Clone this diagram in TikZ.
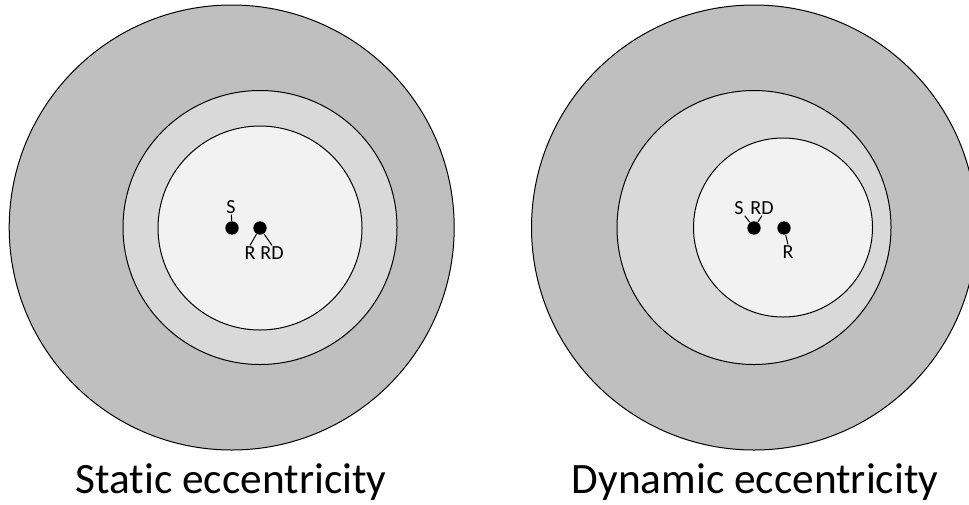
\documentclass[tikz,border=0pt]{standalone}
\usepackage{fontspec}
\setmainfont{Carlito}[Ligatures=NoCommon]
\definecolor{ringdark}{RGB}{191,191,191}
\definecolor{ringmid}{RGB}{217,217,217}
\definecolor{ringlight}{RGB}{242,242,242}
\tikzset{every picture/.style={line width=0.75pt}}
\tikzset{
  axisdot/.style={circle,fill=black,inner sep=0pt,minimum size=10pt},
  lbl/.style={inner sep=0.5pt,font=\fontsize{15}{18}\selectfont},
  capt/.style={anchor=base,font=\fontsize{32.5}{38}\selectfont}
}

\begin{document}
\begin{tikzpicture}[x=0.75pt,y=0.75pt,yscale=-1,xscale=1]
	\useasboundingbox (0,0) rectangle (969,504);
	
	%Shape: Circle [id:statorL] 
	\draw [fill=ringdark] (231.7,227.5) circle [radius=222.5];
	%Shape: Circle [id:gapL] 
	\draw [fill=ringmid] (260,227.5) circle [radius=137];
	%Shape: Circle [id:rotorL] 
	\draw [fill=ringlight] (260,228) circle [radius=102];
	
	%Shape: Circle [id:statorR] 
	\draw [fill=ringdark] (754,227.5) circle [radius=222.5];
	%Shape: Circle [id:gapR] 
	\draw [fill=ringmid] (754,227.5) circle [radius=137];
	%Shape: Circle [id:rotorR] 
	\draw [fill=ringlight] (783,227.5) circle [radius=89.5];
	
	% Centre points
	\node [axisdot] (dS) at (232,228) {};
	\node [axisdot] (dR) at (260,228) {};
	\node [axisdot] (dSRD) at (754,228) {};
	\node [axisdot] (dR2) at (784,228) {};
	
	% Text Node
	\node [lbl] (lS) at (231,207) {S};
	% Text Node
	\node [lbl] (lR) at (250,253) {R};
	% Text Node
	\node [lbl] (lRD) at (272,253) {RD};
	% Text Node
	\node [lbl] (lS2) at (739,208) {S};
	% Text Node
	\node [lbl] (lRD2) at (762,208) {RD};
	% Text Node
	\node [lbl] (lR2) at (788,252) {R};
	
	%Straight Lines
	\draw (dS) -- (lS);
	\draw (dR) -- (lR.north);
	\draw (dR) -- (lRD.north);
	\draw (dSRD) -- (lS2.south east);
	\draw (dSRD) -- (lRD2.south);
	\draw (dR2) -- (lR2.north);
	
	% Text Node
	\node [capt] (cStatic) at (231,493) {Static eccentricity};
	% Text Node
	\node [capt] (cDynamic) at (755,493) {Dynamic eccentricity};
\end{tikzpicture}
\end{document}
